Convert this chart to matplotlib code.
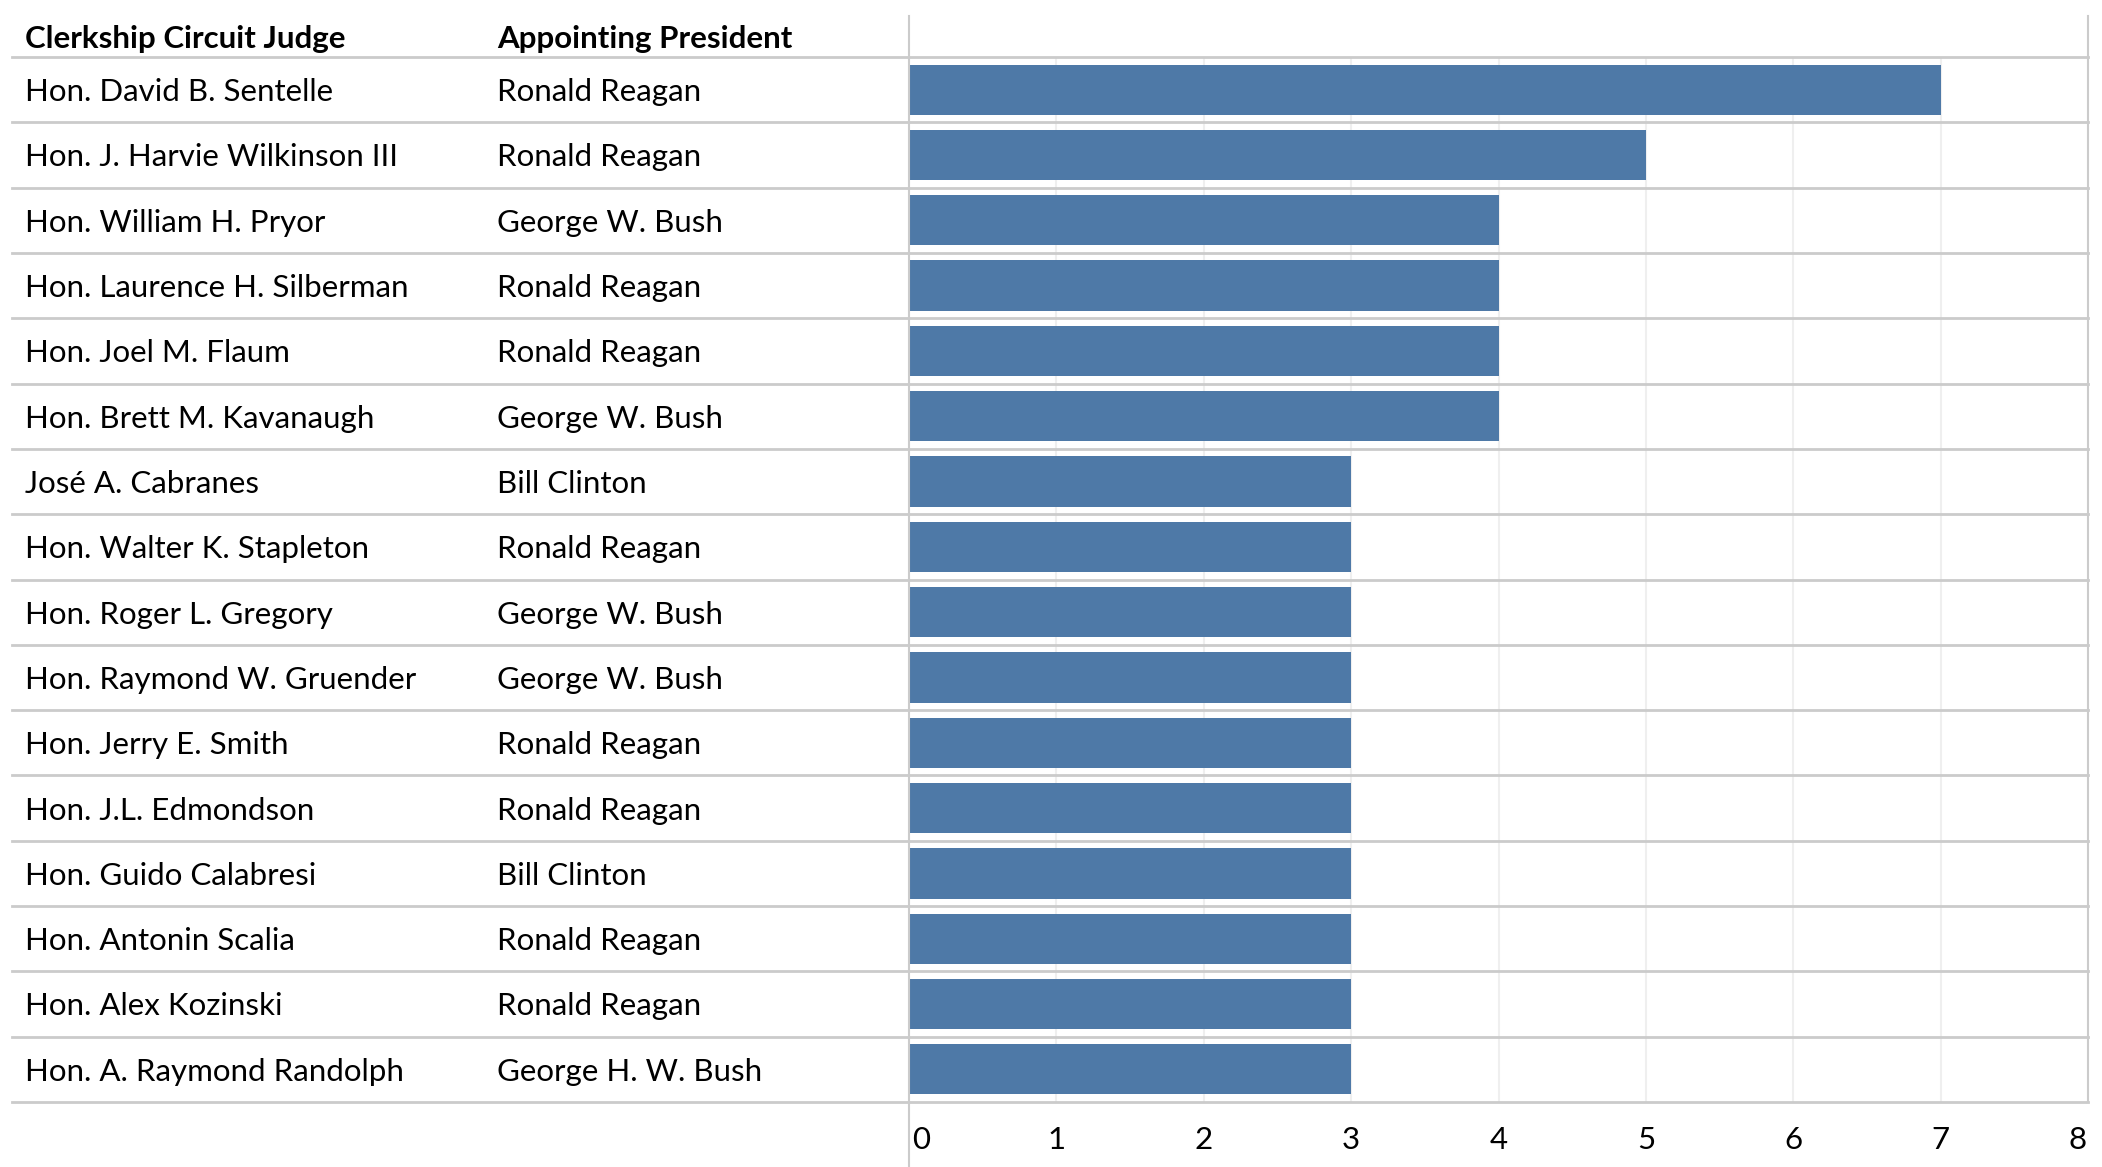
import matplotlib.pyplot as plt
from matplotlib.lines import Line2D

judges = [
    "Hon. David B. Sentelle",
    "Hon. J. Harvie Wilkinson III",
    "Hon. William H. Pryor",
    "Hon. Laurence H. Silberman",
    "Hon. Joel M. Flaum",
    "Hon. Brett M. Kavanaugh",
    "José A. Cabranes",
    "Hon. Walter K. Stapleton",
    "Hon. Roger L. Gregory",
    "Hon. Raymond W. Gruender",
    "Hon. Jerry E. Smith",
    "Hon. J.L. Edmondson",
    "Hon. Guido Calabresi",
    "Hon. Antonin Scalia",
    "Hon. Alex Kozinski",
    "Hon. A. Raymond Randolph",
]
presidents = [
    "Ronald Reagan", "Ronald Reagan", "George W. Bush", "Ronald Reagan",
    "Ronald Reagan", "George W. Bush", "Bill Clinton", "Ronald Reagan",
    "George W. Bush", "George W. Bush", "Ronald Reagan", "Ronald Reagan",
    "Bill Clinton", "Ronald Reagan", "Ronald Reagan", "George H. W. Bush",
]
clerks = [7, 5, 4, 4, 4, 4, 3, 3, 3, 3, 3, 3, 3, 3, 3, 3]
x_ticks = [0, 1, 2, 3, 4, 5, 6, 7, 8]

W, H = 2102, 1167
FONT = "Lato"
FS = 22.5
SEP = "#cbcbcb"

fig = plt.figure(figsize=(W / 100, H / 100), dpi=100)
# chart area in pixels: x 909..2088, y 57..1102
ax = fig.add_axes([909 / W, (H - 1102) / H, (2088 - 909) / W, (1102 - 57) / H])

n = len(judges)
ys = list(range(n))
ax.barh(ys, clerks, height=0.77, color="#4e79a7", zorder=2)
ax.set_ylim(n - 0.5, -0.5)
ax.set_xlim(0, 8)
ax.set_yticks([])
ax.set_xticks([])
for s in ax.spines.values():
    s.set_visible(False)

# vertical gridlines
for t in x_ticks[1:-1]:
    ax.axvline(t, color="#efefef", lw=1.5, zorder=0)

left_x = (12 - 909) / (2088 - 909)
col1_x = (25 - 909) / (2088 - 909)
col2_x = (497 - 909) / (2088 - 909)
tr = ax.get_yaxis_transform()

# row separators
for y in [-0.5] + [i + 0.5 for i in ys]:
    ax.plot([left_x, 1], [y, y], color=SEP, lw=2, transform=tr, clip_on=False, zorder=3)

# left axis line and right border
ax.add_line(Line2D([0, 0], [-0.062, 1.039], transform=ax.transAxes, color=SEP,
                   lw=1.5, clip_on=False, zorder=3))
ax.add_line(Line2D([1, 1], [0, 1.039], transform=ax.transAxes, color=SEP,
                   lw=1.5, clip_on=False, zorder=3))

# header
ax.text(col1_x, -0.645, "Clerkship Circuit Judge", transform=tr, fontsize=FS,
        family=FONT, fontweight="bold", va="baseline", ha="left", clip_on=False)
ax.text(col2_x, -0.645, "Appointing President", transform=tr, fontsize=FS,
        family=FONT, fontweight="bold", va="baseline", ha="left", clip_on=False)

# table rows
for i, (j, p) in enumerate(zip(judges, presidents)):
    ax.text(col1_x, i + 0.175, j, transform=tr, fontsize=FS, family=FONT,
            va="baseline", ha="left", clip_on=False)
    ax.text(col2_x, i + 0.175, p, transform=tr, fontsize=FS, family=FONT,
            va="baseline", ha="left", clip_on=False)

# x tick labels
for t in x_ticks:
    ha = "left" if t == x_ticks[0] else ("right" if t == x_ticks[-1] else "center")
    xx = t + (0.02 if t == x_ticks[0] else (-0.01 if t == x_ticks[-1] else 0))
    ax.text(xx, n - 0.5 + 0.72, str(t), fontsize=FS, family=FONT,
            va="baseline", ha=ha, clip_on=False)

fig.savefig("out.png", dpi=100, facecolor="white")
